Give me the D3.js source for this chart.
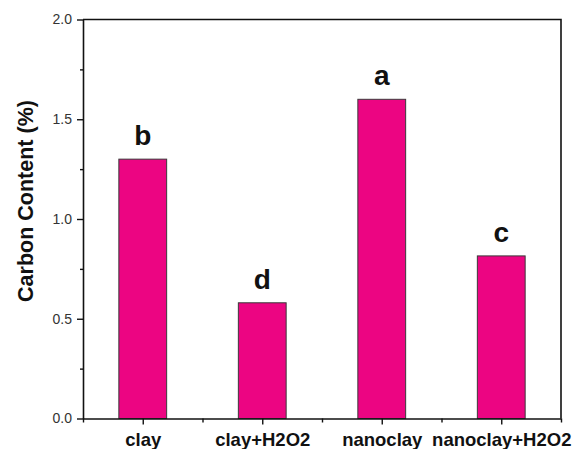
<!DOCTYPE html>
<html>
<head>
<meta charset="utf-8">
<script src="https://cdn.jsdelivr.net/npm/d3@7"></script>
<style>
  body { margin: 0; background: #fff; }
  svg { display: block; font-family: Arial, "Liberation Sans", sans-serif; }
</style>
</head>
<body>
<div id="chart"></div>
<script>
// data
var categories = ["clay", "clay+H2O2", "nanoclay", "nanoclay+H2O2"];
var carbon = [1.30, 0.58, 1.60, 0.815];
var letters = ["b", "d", "a", "c"];
var yTicks = [0, 0.5, 1.0, 1.5, 2.0];
var yMinor = [0.25, 0.75, 1.25, 1.75];

var width = 583, height = 449;
var plotL = 83, plotR = 561, plotT = 19.5, plotB = 418.5;

var svg = d3.select("#chart").append("svg")
    .attr("width", width)
    .attr("height", height);

var x = d3.scaleLinear().domain([0.5, categories.length + 0.5]).range([plotL, plotR]);
var y = d3.scaleLinear().domain([0, 2]).range([plotB, plotT]);
var barW = x(1.4) - x(1);

// bars
svg.append("g").selectAll("rect")
    .data(carbon)
    .enter().append("rect")
    .attr("x", function(d, i) { return x(i + 1) - barW / 2; })
    .attr("y", function(d) { return y(d); })
    .attr("width", barW)
    .attr("height", function(d) { return y(0) - y(d); })
    .attr("fill", "#ec0582")
    .attr("stroke", "#3a3a3a")
    .attr("stroke-width", 1);

// significance letters
svg.append("g").selectAll("text")
    .data(carbon)
    .enter().append("text")
    .attr("x", function(d, i) { return x(i + 1); })
    .attr("y", function(d) { return y(d) - 14; })
    .attr("text-anchor", "middle")
    .attr("font-size", 28)
    .attr("font-weight", "bold")
    .attr("fill", "#111")
    .text(function(d, i) { return letters[i]; });

// x axis
var xAxis = svg.append("g")
    .attr("transform", "translate(0," + plotB + ")")
    .call(d3.axisBottom(x)
        .tickValues(d3.range(1, categories.length + 1))
        .tickFormat(function(d) { return categories[d - 1]; })
        .tickSize(6).tickSizeOuter(0).tickPadding(8));
xAxis.select(".domain").attr("stroke", "#111").attr("stroke-width", 1.6);
xAxis.selectAll(".tick line").attr("stroke", "#111").attr("stroke-width", 1.4);
xAxis.selectAll(".tick text")
    .attr("font-size", 18.5)
    .attr("font-weight", "bold")
    .attr("font-family", "Arial, 'Liberation Sans', sans-serif")
    .attr("fill", "#111");

var xMinor = svg.append("g")
    .attr("transform", "translate(0," + plotB + ")")
    .call(d3.axisBottom(x)
        .tickValues(d3.range(0.5, categories.length + 1, 1))
        .tickFormat("").tickSize(4).tickSizeOuter(0));
xMinor.select(".domain").remove();
xMinor.selectAll(".tick line").attr("stroke", "#111").attr("stroke-width", 1.4);

// y axis
var yAxis = svg.append("g")
    .attr("transform", "translate(" + plotL + ",0)")
    .call(d3.axisLeft(y)
        .tickValues(yTicks)
        .tickFormat(d3.format(".1f"))
        .tickSize(6).tickSizeOuter(0).tickPadding(5));
yAxis.select(".domain").attr("stroke", "#111").attr("stroke-width", 1.6);
yAxis.selectAll(".tick line").attr("stroke", "#111").attr("stroke-width", 1.4);
yAxis.selectAll(".tick text")
    .attr("font-size", 14)
    .attr("font-family", "Arial, 'Liberation Sans', sans-serif")
    .attr("fill", "#333");

var yMin = svg.append("g")
    .attr("transform", "translate(" + plotL + ",0)")
    .call(d3.axisLeft(y).tickValues(yMinor).tickFormat("").tickSize(3).tickSizeOuter(0));
yMin.select(".domain").remove();
yMin.selectAll(".tick line").attr("stroke", "#111").attr("stroke-width", 1.4);

// top and right frame
svg.append("path")
    .attr("d", "M" + plotL + "," + plotT + "H" + plotR + "V" + plotB)
    .attr("fill", "none")
    .attr("stroke", "#111")
    .attr("stroke-width", 1.6);

// y title
svg.append("text")
    .attr("transform", "translate(33,201) rotate(-90)")
    .attr("text-anchor", "middle")
    .attr("font-size", 21.5)
    .attr("font-weight", "bold")
    .attr("fill", "#111")
    .text("Carbon Content (%)");
</script>
</body>
</html>
